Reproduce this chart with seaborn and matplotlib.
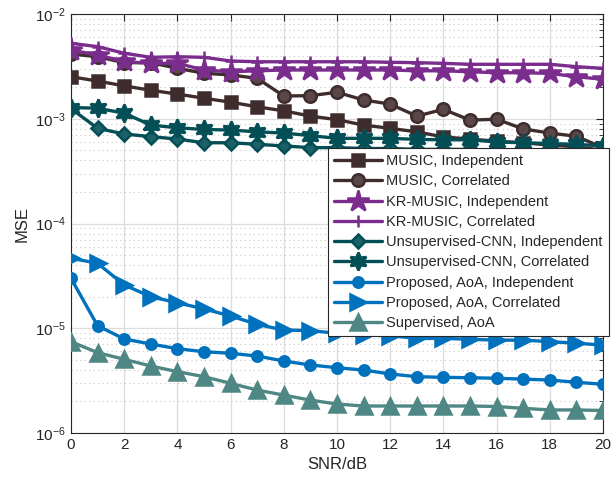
import numpy as np
import pandas as pd
import matplotlib
matplotlib.use("Agg")
import matplotlib.pyplot as plt
import seaborn as sns
from matplotlib.ticker import LogLocator, NullFormatter

snr = list(range(0, 21))

music_ind = [2.52e-3, 2.29e-3, 2.06e-3, 1.87e-3, 1.72e-3, 1.57e-3, 1.44e-3, 1.30e-3, 1.19e-3, 1.06e-3,
             9.8e-4, 8.7e-4, 8.1e-4, 7.5e-4, 6.7e-4, 6.4e-4, 6.1e-4, 5.9e-4, 5.6e-4, 5.4e-4, 5.0e-4]
music_cor = [4.15e-3, 3.91e-3, 3.43e-3, 3.43e-3, 3.03e-3, 2.72e-3, 2.62e-3, 2.43e-3, 1.65e-3, 1.66e-3,
             1.79e-3, 1.51e-3, 1.38e-3, 1.06e-3, 1.23e-3, 9.7e-4, 9.9e-4, 8.0e-4, 7.3e-4, 6.8e-4, 5.3e-4]
kr_ind = [4.53e-3, 4.06e-3, 3.52e-3, 3.38e-3, 3.38e-3, 2.92e-3, 2.81e-3, 2.87e-3, 2.92e-3, 2.92e-3,
          2.92e-3, 2.92e-3, 2.92e-3, 2.87e-3, 2.87e-3, 2.81e-3, 2.75e-3, 2.75e-3, 2.71e-3, 2.52e-3, 2.38e-3]
kr_cor = [5.25e-3, 4.88e-3, 4.22e-3, 3.86e-3, 3.91e-3, 3.86e-3, 3.56e-3, 3.50e-3, 3.50e-3, 3.50e-3,
          3.50e-3, 3.50e-3, 3.46e-3, 3.43e-3, 3.38e-3, 3.31e-3, 3.31e-3, 3.31e-3, 3.31e-3, 3.14e-3, 3.03e-3]
cnn_ind = [1.25e-3, 8.1e-4, 7.15e-4, 6.75e-4, 6.4e-4, 5.9e-4, 5.9e-4, 5.7e-4, 5.5e-4, 5.3e-4,
           5.3e-4, 5.2e-4, 5.2e-4, 5.1e-4, 5.1e-4, 5.1e-4, 5.0e-4, 5.0e-4, 5.0e-4, 5.0e-4, 5.0e-4]
cnn_cor = [1.28e-3, 1.26e-3, 1.13e-3, 8.7e-4, 8.2e-4, 7.9e-4, 7.8e-4, 7.5e-4, 7.3e-4, 6.9e-4,
           6.5e-4, 6.5e-4, 6.5e-4, 6.35e-4, 6.3e-4, 6.3e-4, 6.0e-4, 5.9e-4, 5.8e-4, 5.7e-4, 5.5e-4]
prop_ind = [3.0e-5, 1.057e-5, 7.9e-6, 7.07e-6, 6.38e-6, 5.97e-6, 5.77e-6, 5.43e-6, 4.87e-6, 4.46e-6,
            4.2e-6, 3.99e-6, 3.66e-6, 3.45e-6, 3.40e-6, 3.37e-6, 3.33e-6, 3.27e-6, 3.2e-6, 3.05e-6, 2.92e-6]
prop_cor = [4.66e-5, 4.17e-5, 2.59e-5, 2.0e-5, 1.75e-5, 1.53e-5, 1.31e-5, 1.09e-5, 9.6e-6, 9.5e-6,
            8.95e-6, 8.6e-6, 8.5e-6, 8.0e-6, 8.0e-6, 7.85e-6, 7.7e-6, 7.7e-6, 7.45e-6, 7.2e-6, 6.9e-6]
sup = [7.45e-6, 5.85e-6, 5.05e-6, 4.36e-6, 3.85e-6, 3.45e-6, 2.98e-6, 2.57e-6, 2.3e-6, 2.06e-6,
       1.89e-6, 1.81e-6, 1.81e-6, 1.81e-6, 1.81e-6, 1.81e-6, 1.79e-6, 1.72e-6, 1.66e-6, 1.66e-6, 1.64e-6]

labels = ["MUSIC, Independent", "MUSIC, Correlated", "KR-MUSIC, Independent", "KR-MUSIC, Correlated",
          "Unsupervised-CNN, Independent", "Unsupervised-CNN, Correlated",
          "Proposed, AoA, Independent", "Proposed, AoA, Correlated", "Supervised, AoA"]
series = [music_ind, music_cor, kr_ind, kr_cor, cnn_ind, cnn_cor, prop_ind, prop_cor, sup]

c_music = "#3f2d2e"
c_kr = "#7b2d8e"
c_cnn = "#044f56"
c_prop = "#0072bd"
c_sup = "#4e8783"
styles = [
    dict(color=c_music, marker="s", ms=9, mfc=c_music),
    dict(color=c_music, marker="o", ms=9, mfc="#5a4849"),
    dict(color=c_kr, marker="*", ms=16, mfc=c_kr),
    dict(color=c_kr, marker="+", ms=9, mfc=c_kr),
    dict(color=c_cnn, marker="D", ms=7.5, mfc="#1d6168"),
    dict(color=c_cnn, marker=(6, 1, 0), ms=13, mfc=c_cnn),
    dict(color=c_prop, marker="o", ms=7.5, mfc=c_prop),
    dict(color=c_prop, marker=">", ms=12, mfc=c_prop),
    dict(color=c_sup, marker="^", ms=12, mfc=c_sup),
]

df = pd.DataFrame({"SNR": snr * len(series),
                   "MSE": np.concatenate(series),
                   "Method": np.repeat(labels, len(snr))})

sns.set_style("white")
plt.rcParams["font.family"] = ["Liberation Sans", "DejaVu Sans"]

fig = plt.figure(figsize=(6.12, 4.84), dpi=100)
ax = fig.add_axes([71 / 612, 1 - 433 / 484, (603 - 71) / 612, (433 - 14) / 484])

for lab, st in zip(labels, styles):
    sub = df[df["Method"] == lab]
    sns.lineplot(data=sub, x="SNR", y="MSE", ax=ax, color=st["color"], lw=2.4,
                 marker=st["marker"], markersize=st["ms"], markerfacecolor=st["mfc"],
                 markeredgecolor=st["color"], markeredgewidth=1.8, label=lab, zorder=3)

ax.set_yscale("log")
ax.set_xlim(0, 20)
ax.set_ylim(1e-6, 1e-2)
ax.set_xticks(range(0, 21, 2))
ax.yaxis.set_major_locator(LogLocator(base=10, numticks=10))
ax.yaxis.set_minor_locator(LogLocator(base=10, subs=np.arange(2, 10), numticks=20))
ax.yaxis.set_minor_formatter(NullFormatter())
ax.grid(True, which="major", color="#dcdcdc", lw=0.9, ls="-", zorder=0)
ax.grid(True, which="minor", axis="y", color="#c8c8c8", lw=0.8, ls=(0, (1, 3)), zorder=0)
ax.tick_params(which="both", direction="in", top=True, right=True, labelsize=11, colors="#262626")
ax.tick_params(which="major", length=5, width=0.8)
ax.tick_params(which="minor", length=3, width=0.6)
for s in ax.spines.values():
    s.set_color("#262626")
    s.set_linewidth(0.8)
ax.set_xlabel("SNR/dB", fontsize=12, color="#262626", labelpad=4)
ax.set_ylabel("MSE", fontsize=12, color="#262626", labelpad=4)

leg = ax.legend(loc="upper right", bbox_to_anchor=(609 / 612, 1 - 148 / 484),
                bbox_transform=fig.transFigure, fontsize=10.5, frameon=True, fancybox=False,
                edgecolor="#262626", framealpha=1, handlelength=3.3, handletextpad=0.3,
                labelspacing=0.43, borderpad=0.42, borderaxespad=0)
leg.get_frame().set_linewidth(0.8)
leg.set_zorder(5)

fig.savefig("out.png", dpi=100)
